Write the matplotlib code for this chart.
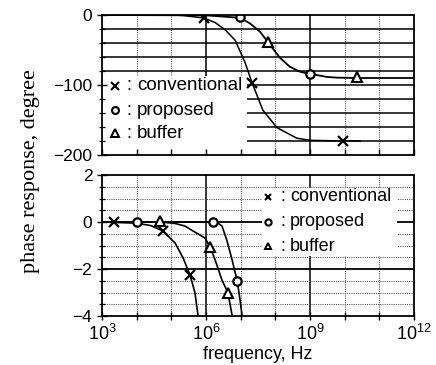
import numpy as np
import matplotlib
matplotlib.use("Agg")
import matplotlib.pyplot as plt
from matplotlib.patches import Rectangle
from matplotlib.ticker import FixedLocator, NullFormatter

# ---------------- data (log10 of frequency in Hz, phase in degrees) ----------------
# upper panel
conv_top_logf = [3.0, 5.0, 5.34, 5.94, 6.26, 6.55, 6.84, 7.12, 7.33, 7.64, 8.05, 8.62, 9.0, 9.95, 10.45]
conv_top_phase = [0, 0, -0.7, -4.3, -10.7, -21, -36, -67, -97, -136, -161, -176, -179, -180, -180]
prop_top_logf = [3.0, 6.0, 6.98, 7.27, 7.56, 7.79, 8.13, 8.42, 8.71, 9.0, 9.49, 9.78, 10.36, 12.0]
prop_top_phase = [0, -0.5, -4, -12, -24, -39, -61, -74, -81, -84, -88.5, -89.5, -90, -90]
conv_top_mk_logf = [5.94, 7.33, 9.95]
conv_top_mk_phase = [-4, -97, -180]
prop_top_mk_logf = [6.98, 9.0]
prop_top_mk_phase = [-3, -84]
buf_top_mk_logf = [7.79, 10.36]
buf_top_mk_phase = [-39, -89]

# lower panel (zoom)
conv_bot_logf = [3.0, 4.0, 4.4, 4.76, 5.11, 5.34, 5.54, 5.68, 5.78]
conv_bot_phase = [0, -0.05, -0.15, -0.38, -0.9, -1.53, -2.26, -3.0, -4.1]
prop_bot_logf = [3.0, 6.2, 6.33, 6.46, 6.6, 6.75, 6.9, 6.98, 7.05]
prop_bot_phase = [0, 0, -0.03, -0.17, -0.77, -1.6, -2.5, -3.3, -4.1]
buf_bot_logf = [3.0, 4.67, 5.1, 5.39, 5.68, 5.97, 6.12, 6.26, 6.46, 6.63, 6.77]
buf_bot_phase = [0, 0, -0.06, -0.17, -0.43, -0.68, -1.06, -1.6, -2.47, -3.0, -4.1]
conv_bot_mk_logf = [3.35, 4.76, 5.54]
conv_bot_mk_phase = [0, -0.38, -2.26]
prop_bot_mk_logf = [4.0, 6.2, 6.9]
prop_bot_mk_phase = [0, 0, -2.5]
buf_bot_mk_logf = [4.67, 6.12, 6.63]
buf_bot_mk_phase = [0.05, -1.06, -3.0]

labels = ["conventional", "proposed", "buffer"]
xtick_exp = [3, 6, 9, 12]

# ---------------- figure ----------------
SANS = ["Liberation Sans", "DejaVu Sans"]
SERIF = ["Liberation Serif", "DejaVu Serif"]
plt.rcParams["font.family"] = SANS
plt.rcParams["mathtext.fontset"] = "custom"
plt.rcParams["mathtext.rm"] = "Liberation Sans"

fig = plt.figure(figsize=(4.36, 3.65), dpi=100)
W, H = 436.0, 365.0
ax1 = fig.add_axes([102 / W, 1 - 155 / H, 312 / W, 140 / H])
ax2 = fig.add_axes([102 / W, 1 - 316 / H, 312 / W, 141 / H])

TICKFS = 12.5
LEGFS = 13


def f(lst):
    return 10.0 ** np.asarray(lst, dtype=float)


for ax in (ax1, ax2):
    ax.set_xscale("log")
    ax.set_xlim(1e3, 1e12)
    ax.xaxis.set_major_locator(FixedLocator([10.0 ** e for e in range(3, 13)]))
    ax.xaxis.set_minor_locator(FixedLocator([]))
    for s in ax.spines.values():
        s.set_linewidth(1.3)
        s.set_zorder(5)
    ax.tick_params(axis="x", direction="in", length=4, width=1.0)
    ax.tick_params(axis="y", direction="inout", length=7, width=1.0, labelsize=TICKFS)
    ax.tick_params(axis="y", which="minor", direction="inout", length=5, width=0.9)
    # vertical grid: solid at 1e6, 1e9; dotted elsewhere
    for e in range(4, 12):
        if e in (6, 9):
            ax.axvline(10.0 ** e, color="black", lw=1.1, zorder=1)
        else:
            ax.axvline(10.0 ** e, color="0.35", lw=0.8, ls=(0, (1, 1)), zorder=1)

# ---- top panel ----
ax1.set_ylim(-200, 0)
ax1.set_yticks([0, -100, -200])
ax1.set_yticks(np.arange(-200, 1, 20), minor=True)
ax1.xaxis.set_major_formatter(NullFormatter())
for v in range(-180, 0, 20):
    ax1.axhline(v, color="black", lw=1.1, zorder=1)
ax1.add_patch(Rectangle((0, 0), 145 / 312, 79 / 140, transform=ax1.transAxes,
                        facecolor="white", edgecolor="none", zorder=1.5))

ax1.plot(f(conv_top_logf), conv_top_phase, color="black", lw=1.1, zorder=3)
ax1.plot(f(prop_top_logf), prop_top_phase, color="black", lw=1.3, zorder=3)
ax1.plot(f(conv_top_mk_logf), conv_top_mk_phase, ls="none", marker="x", ms=7, mew=1.6,
         color="black", zorder=4)
ax1.plot(f(prop_top_mk_logf), prop_top_mk_phase, ls="none", marker="o", ms=6, mew=1.6,
         mfc="white", mec="black", zorder=4)
ax1.plot(f(buf_top_mk_logf), buf_top_mk_phase, ls="none", marker="^", ms=7, mew=1.5,
         mfc="white", mec="black", zorder=4)

# top legend
leg_y1 = [0.493, 0.321, 0.157]
mk = [dict(marker="x", ms=6, mew=1.5), dict(marker="o", ms=5, mew=1.5, mfc="white"),
      dict(marker="^", ms=6, mew=1.4, mfc="white")]
for y, lab, m in zip(leg_y1, labels, mk):
    ax1.plot([0.042], [y], transform=ax1.transAxes, ls="none", color="black", zorder=6,
             clip_on=False, **m)
    ax1.text(0.086, y, ":", transform=ax1.transAxes, fontsize=LEGFS, va="center",
             ha="center", zorder=6)
    ax1.text(0.112, y, lab, transform=ax1.transAxes, fontsize=LEGFS + 0.5, va="center",
             ha="left", zorder=6)

# ---- bottom panel ----
ax2.set_ylim(-4, 2)
ax2.set_yticks([2, 0, -2, -4])
ax2.set_yticks(np.arange(-4, 2.01, 0.5), minor=True)
ax2.xaxis.set_major_locator(FixedLocator([10.0 ** e for e in range(3, 13)]))
ax2.set_xticklabels([r"$\mathregular{10^{%d}}$" % e if e in xtick_exp else ""
                     for e in range(3, 13)])
ax2.tick_params(axis="x", direction="inout", length=6, labelsize=TICKFS + 0.5, pad=3)
for k in range(-7, 4):
    v = k * 0.5
    if v in (0.0, -2.0):
        ax2.axhline(v, color="black", lw=1.3, zorder=1)
    elif -4 < v < 2:
        ax2.axhline(v, color="0.35", lw=0.8, ls=(0, (1, 1)), zorder=1)
ax2.add_patch(Rectangle((160 / 312, 60 / 141), 135 / 312, 68 / 141, transform=ax2.transAxes,
                        facecolor="white", edgecolor="none", zorder=1.5))

ax2.plot(f(conv_bot_logf), conv_bot_phase, color="black", lw=1.2, zorder=3)
ax2.plot(f(prop_bot_logf), prop_bot_phase, color="black", lw=1.2, zorder=3)
ax2.plot(f(buf_bot_logf), buf_bot_phase, color="black", lw=1.2, zorder=3)
ax2.plot(f(conv_bot_mk_logf), conv_bot_mk_phase, ls="none", marker="x", ms=7, mew=1.6,
         color="black", zorder=4)
ax2.plot(f(prop_bot_mk_logf), prop_bot_mk_phase, ls="none", marker="o", ms=6, mew=1.6,
         mfc="white", mec="black", zorder=4)
ax2.plot(f(buf_bot_mk_logf), buf_bot_mk_phase, ls="none", marker="^", ms=7, mew=1.5,
         mfc="white", mec="black", zorder=4)

leg_y2 = [0.844, 0.667, 0.496]
mk2 = [dict(marker="x", ms=5, mew=1.5), dict(marker="o", ms=4.5, mew=1.5, mfc="white"),
       dict(marker="^", ms=5, mew=1.4, mfc="white")]
for y, lab, m in zip(leg_y2, labels, mk2):
    ax2.plot([0.532], [y], transform=ax2.transAxes, ls="none", color="black", zorder=6, **m)
    ax2.text(0.578, y, ":", transform=ax2.transAxes, fontsize=LEGFS, va="center",
             ha="center", zorder=6)
    ax2.text(0.603, y, lab, transform=ax2.transAxes, fontsize=LEGFS, va="center",
             ha="left", zorder=6)

ax2.set_xlabel("frequency, Hz", fontsize=LEGFS, labelpad=1)
fig.text(30 / W, 1 - 171 / H, "phase response, degree", rotation=90, fontsize=16,
         family=SERIF, ha="center", va="center")

fig.savefig("out.png", dpi=100)
